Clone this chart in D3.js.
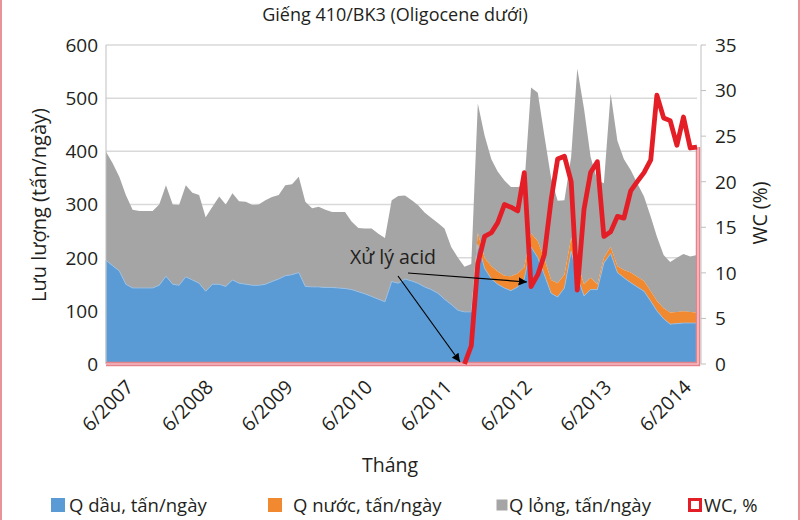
<html>
<head>
  <meta charset="utf-8">
  <title>Giếng 410/BK3</title>
  <script src="https://d3js.org/d3.v7.min.js"></script>
  <style>
    body { margin: 0; background: #fff; }
    text { font-family: "Open Sans", "Noto Sans", sans-serif; fill: #231f20; }
  </style>
</head>
<body>
<script>

// monthly data, 4/2007 .. 9/2014
var qDau = [195,185,175,150,143,143,143,143,148,165,150,148,164,158,152,137,150,150,146,158,
            152,150,148,148,150,155,160,166,168,172,146,145,145,144,144,143,142,140,136,132,
            127,122,117,155,152,160,156,152,145,140,133,122,112,101,98,98,225,180,160,150,
            143,138,145,160,220,200,168,133,126,143,212,165,128,140,140,190,208,172,162,153,
            145,137,118,100,85,75,76,77,77,77];
var qNuoc = [0,0,0,0,0,0,0,0,0,0,0,0,0,0,0,0,0,0,0,0,
             0,0,0,0,0,0,0,0,0,0,0,0,0,0,0,0,0,0,0,0,
             0,0,0,0,0,0,0,0,0,0,0,0,0,0,0,0,22,20,24,24,
             23,27,25,22,26,31,30,25,26,25,25,25,22,22,10,10,12,12,15,19,
             19,19,19,19,20,22,22,22,21,20];
var qLong = [204,193,177,168,147,145,145,145,152,171,150,151,172,164,166,139,146,165,154,163,
             154,155,151,152,158,159,158,170,170,180,159,148,151,146,142,143,144,128,120,123,
             128,123,120,153,164,157,152,147,140,135,132,133,108,99,85,90,243,230,201,188,
             179,168,163,153,274,279,232,192,155,140,153,366,330,228,195,140,289,236,208,193,
             176,159,140,121,100,95,102,108,104,108];
var wc = [0,0,0,0,0,0,0,0,0,0,0,0,0,0,0,0,0,0,0,0,
          0,0,0,0,0,0,0,0,0,0,0,0,0,0,0,0,0,0,0,0,
          0,0,0,0,0,0,0,0,0,0,0,0,0,0,0,2,11,14,14.4,15.5,
          17.5,17.2,16.8,21,8.5,9.8,12,18,22.5,22.8,20,8.1,17,21,22.2,14,14.5,16.2,16,19,
          20,21,22.4,29.5,27,26.7,24,27.1,23.7,23.8];

var months = d3.timeMonth.range(new Date(2007, 3, 1), new Date(2014, 9, 1));
var tickLabels = ["6/2007","6/2008","6/2009","6/2010","6/2011","6/2012","6/2013","6/2014"];
var leftTicks = [0,100,200,300,400,500,600];
var rightTicks = [0,5,10,15,20,25,30,35];

var width = 800, height = 520;
var plot = {left: 106, right: 697, top: 45, bottom: 364};

var svg = d3.select("body").append("svg")
    .attr("width", width)
    .attr("height", height);

var x = d3.scaleTime().domain([months[0], months[months.length-1]]).range([plot.left, plot.right]);
var y = d3.scaleLinear().domain([0, 600]).range([plot.bottom, plot.top]);
var y2 = d3.scaleLinear().domain([0, 35]).range([plot.bottom, plot.top]);

// frame
svg.append("line").attr("x1",1).attr("x2",1).attr("y1",0).attr("y2",height)
   .attr("stroke","#e8939a").attr("stroke-width",2);
svg.append("line").attr("x1",width-1).attr("x2",width-1).attr("y1",0).attr("y2",height)
   .attr("stroke","#e8939a").attr("stroke-width",2);

svg.append("text")
   .attr("x", 395).attr("y", 21)
   .attr("text-anchor", "middle")
   .style("font-size", "18px")
   .text("Giếng 410/BK3 (Oligocene dưới)");

// grid
svg.selectAll(".grid").data(leftTicks.slice(1)).enter().append("line")
   .attr("x1", plot.left).attr("x2", plot.right)
   .attr("y1", function(d) { return y(d); }).attr("y2", function(d) { return y(d); })
   .attr("stroke", "#d9d9d9").attr("stroke-width", 1.5);

var table = months.map(function(m, i) {
  return {date: m, dau: qDau[i], nuoc: qNuoc[i], long: qLong[i], wc: wc[i]};
});

var stack = d3.stack().keys(["dau", "nuoc", "long"]);
var series = stack(table);
var colors = {dau: "#5b9bd5", nuoc: "#f0892f", long: "#a5a5a5"};

var area = d3.area()
    .x(function(d) { return x(d.data.date); })
    .y0(function(d) { return y(d[0]); })
    .y1(function(d) { return y(d[1]); });

svg.selectAll(".layer").data(series.slice().reverse()).enter().append("path")
   .attr("d", area)
   .attr("fill", function(d) { return colors[d.key]; })
   .attr("stroke", function(d) { return d.key == "dau" ? "#9cc2e6" : "none"; })
   .attr("stroke-width", 0.8);

// axes
svg.append("line").attr("x1", plot.left).attr("x2", plot.left)
   .attr("y1", plot.top).attr("y2", plot.bottom).attr("stroke", "#bfbfbf");
svg.append("line").attr("x1", plot.right + 4).attr("x2", plot.right + 4)
   .attr("y1", plot.top).attr("y2", plot.bottom).attr("stroke", "#bfbfbf");
svg.selectAll(".rtick").data(rightTicks).enter().append("line")
   .attr("x1", plot.right + 4).attr("x2", plot.right + 9)
   .attr("y1", function(d) { return y2(d); }).attr("y2", function(d) { return y2(d); })
   .attr("stroke", "#bfbfbf");

svg.selectAll(".ltxt").data(leftTicks).enter().append("text")
   .attr("x", 98).attr("y", function(d) { return y(d); })
   .attr("dy", "0.36em").attr("text-anchor", "end")
   .style("font-size", "19px")
   .text(function(d) { return d; });

svg.selectAll(".rtxt").data(rightTicks).enter().append("text")
   .attr("x", 715).attr("y", function(d) { return y2(d); })
   .attr("dy", "0.36em")
   .style("font-size", "19px")
   .text(function(d) { return d; });

// WC: outline of the area (bottom + right side) then the line
var wcLine = d3.line()
    .x(function(d) { return x(d.date); })
    .y(function(d) { return y2(d.wc); });

var last = table[table.length-1];
var edge = "M" + x(months[0]) + "," + y2(0) + "L" + (x(last.date)+1) + "," + y2(0) +
           "L" + (x(last.date)+1) + "," + y2(last.wc);
svg.append("path").attr("d", edge).attr("fill", "none")
   .attr("stroke", "#e5838c").attr("stroke-width", 4.5);
svg.append("path").attr("d", edge).attr("fill", "none")
   .attr("stroke", "#f9d3d6").attr("stroke-width", 1.2);

svg.append("path").datum(table.slice(54))
   .attr("d", wcLine)
   .attr("fill", "none")
   .attr("stroke", "#e41e26")
   .attr("stroke-width", 4.8)
   .attr("stroke-linejoin", "round");

// x tick labels
var tickDates = tickLabels.map(function(t) {
  var p = t.split("/");
  return new Date(+p[1], +p[0]-1, 1);
});
svg.selectAll(".xtxt").data(tickDates).enter().append("text")
   .attr("transform", function(d) { return "translate(" + (x(d)+5) + ",378) rotate(-45)"; })
   .attr("text-anchor", "end")
   .attr("dy", "0.75em")
   .style("font-size", "19.5px")
   .text(function(d, i) { return tickLabels[i]; });

svg.append("text")
   .attr("transform", "translate(46,205) rotate(-90)")
   .attr("text-anchor", "middle")
   .style("font-size", "20px")
   .text("Lưu lượng (tấn/ngày)");

svg.append("text")
   .attr("transform", "translate(767,213) rotate(-90)")
   .attr("text-anchor", "middle")
   .style("font-size", "19.5px")
   .text("WC (%)");

svg.append("text")
   .attr("x", 390).attr("y", 472)
   .attr("text-anchor", "middle")
   .style("font-size", "19.5px")
   .text("Tháng");

// annotation
svg.append("defs").append("marker")
   .attr("id", "arr").attr("viewBox", "0 0 10 10")
   .attr("refX", 10).attr("refY", 5)
   .attr("markerWidth", 7).attr("markerHeight", 7)
   .attr("orient", "auto")
   .append("path").attr("d", "M0,0L10,5L0,10z").attr("fill", "#000");

svg.append("text")
   .attr("x", 393).attr("y", 264)
   .attr("text-anchor", "middle")
   .style("font-size", "19.5px")
   .text("Xử lý acid");

svg.append("line").attr("x1", 398).attr("y1", 276).attr("x2", 460).attr("y2", 362)
   .attr("stroke", "#000").attr("stroke-width", 1.2).attr("marker-end", "url(#arr)");
svg.append("line").attr("x1", 408).attr("y1", 273).attr("x2", 527).attr("y2", 282)
   .attr("stroke", "#000").attr("stroke-width", 1.2).attr("marker-end", "url(#arr)");

// legend
var legend = [
  {label: "Q dầu, tấn/ngày", x: 51, size: 14, dx: 18, fill: "#5b9bd5", stroke: "none"},
  {label: "Q nước, tấn/ngày", x: 268, size: 14, dx: 25, fill: "#f0892f", stroke: "none"},
  {label: "Q lỏng, tấn/ngày", x: 495, size: 11, dx: 14, fill: "#a5a5a5", stroke: "none"},
  {label: "WC, %", x: 688, size: 11, dx: 16, fill: "#fff", stroke: "#e41e26"}
];
var lg = svg.selectAll(".lg").data(legend).enter().append("g")
   .attr("transform", function(d) { return "translate(" + d.x + ",498)"; });
lg.append("rect")
   .attr("x", function(d) { return (14 - d.size) / 2; })
   .attr("y", function(d) { return (14 - d.size) / 2; })
   .attr("width", function(d) { return d.size; })
   .attr("height", function(d) { return d.size; })
   .attr("fill", function(d) { return d.fill; })
   .attr("stroke", function(d) { return d.stroke; })
   .attr("stroke-width", 3);
lg.append("text")
   .attr("x", function(d) { return d.dx; })
   .attr("y", 14)
   .style("font-size", "18.5px")
   .text(function(d) { return d.label; });

</script>
</body>
</html>
